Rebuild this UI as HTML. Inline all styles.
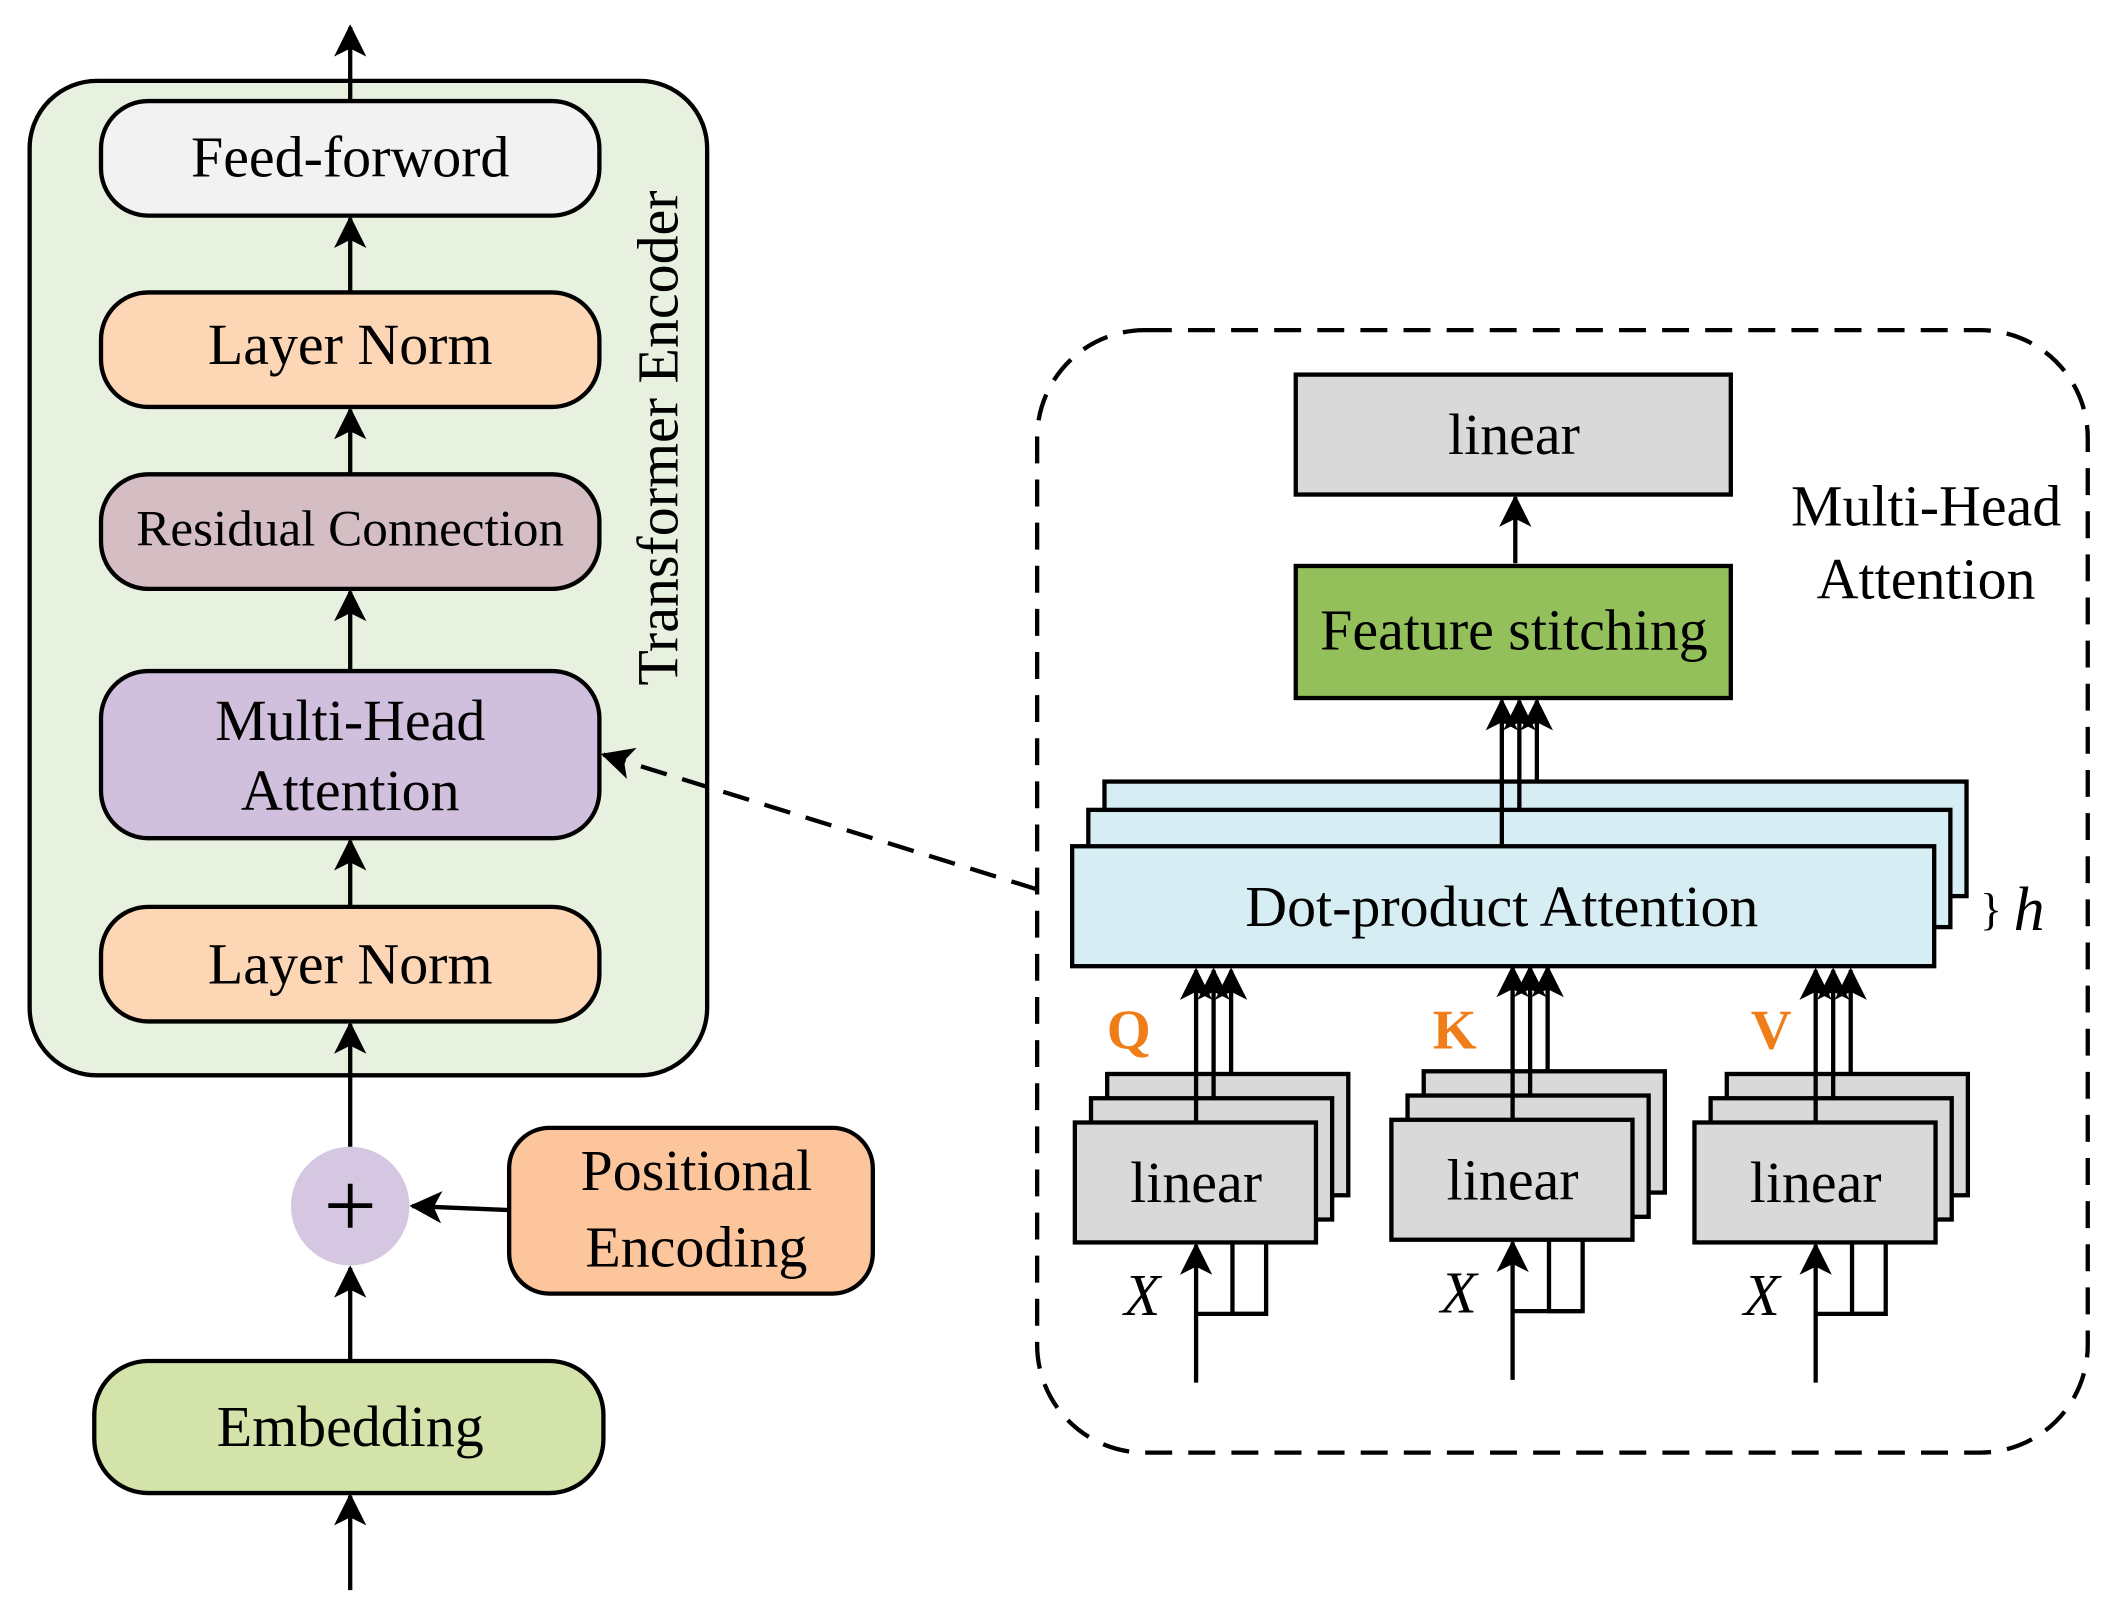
<!DOCTYPE html>
<html><head><meta charset="utf-8"><style>
html,body{margin:0;padding:0;background:#fff;}
svg{display:block;}
text{font-family:"Liberation Serif",serif;fill:#000;}
</style></head><body>
<svg width="2112" height="1613" viewBox="0 0 1568 1197" preserveAspectRatio="none" xmlns="http://www.w3.org/2000/svg">
<defs>
<marker id="ah" viewBox="0 0 12 12" refX="11" refY="6" markerWidth="24" markerHeight="24" orient="auto" markerUnits="userSpaceOnUse"><path d="M0,0 L12,6 L0,12 L3,6 Z" fill="#000"/></marker>
</defs>
<g stroke="#000" stroke-width="3.2">
<rect x="22" y="60" width="503" height="738" rx="50" fill="#e8f0df"/>
<rect x="75" y="75" width="370" height="85" rx="35" fill="#f2f2f2"/>
<rect x="75" y="217" width="370" height="85" rx="35" fill="#fdd6b6"/>
<rect x="75" y="352" width="370" height="85" rx="35" fill="#d4bec4"/>
<rect x="75" y="498" width="370" height="124" rx="35" fill="#d1c0dd"/>
<rect x="75" y="673" width="370" height="85" rx="35" fill="#fdd6b6"/>
<rect x="378" y="837" width="270" height="123" rx="30" fill="#fcc59c"/>
<rect x="70" y="1010" width="378" height="98" rx="40" fill="#d3e3a9"/>
</g>
<circle cx="260" cy="895" r="44" fill="#d5c6e1"/>
<text x="260" y="918" font-size="70" text-anchor="middle">+</text>
<g stroke="#000" stroke-width="3.2" fill="none" marker-end="url(#ah)">
<line x1="260" y1="75" x2="260" y2="20"/>
<line x1="260" y1="217" x2="260" y2="162"/>
<line x1="260" y1="352" x2="260" y2="304"/>
<line x1="260" y1="498" x2="260" y2="439"/>
<line x1="260" y1="673" x2="260" y2="624"/>
<line x1="260" y1="851" x2="260" y2="760"/>
<line x1="260" y1="1010" x2="260" y2="941"/>
<line x1="260" y1="1180" x2="260" y2="1110"/>
<line x1="378" y1="898" x2="306" y2="895"/>
<line x1="770" y1="660" x2="448" y2="560" stroke-dasharray="20,12"/>
</g>
<g font-size="43" text-anchor="middle">
<text x="260" y="131">Feed-forword</text>
<text x="260" y="270">Layer Norm</text>
<text x="260" y="405" font-size="38">Residual Connection</text>
<text x="260" y="549">Multi-Head</text>
<text x="260" y="601">Attention</text>
<text x="260" y="730">Layer Norm</text>
<text x="517" y="883">Positional</text>
<text x="517" y="940">Encoding</text>
<text x="260" y="1073">Embedding</text>
<text transform="translate(503,325) rotate(-90)" font-size="43">Transformer Encoder</text>
</g>
<rect x="770" y="245" width="780" height="833" rx="80" fill="none" stroke="#000" stroke-width="3.2" stroke-dasharray="20,12"/>
<g stroke="#000" stroke-width="3.2">
<rect x="962" y="278" width="323" height="89" fill="#d9d9d9"/>
<rect x="962" y="420" width="323" height="98" fill="#93c05b"/>
<rect x="820" y="580" width="640" height="85" fill="#d6eef3"/>
<rect x="808" y="601" width="640" height="87" fill="#d6eef3"/>
<rect x="796" y="628" width="640" height="89" fill="#d6eef3"/>
</g>
<g stroke="#000" stroke-width="3.2" fill="none" marker-end="url(#ah)">
<line x1="1125" y1="418" x2="1125" y2="369"/>
<line x1="1115" y1="628" x2="1115" y2="520"/>
<line x1="1128" y1="601" x2="1128" y2="520"/>
<line x1="1141" y1="580" x2="1141" y2="520"/>
</g>
<g font-size="43" text-anchor="middle">
<text x="1124" y="337">linear</text>
<text x="1124" y="482">Feature stitching</text>
<text x="1115" y="687">Dot-product Attention</text>
<text x="1430" y="390">Multi-Head</text>
<text x="1430" y="444">Attention</text>
</g>
<text x="1470" y="686" font-size="34">}</text>
<text x="1495" y="690" font-size="46" font-style="italic">h</text>
<g id="g1">
<g stroke="#000" stroke-width="3.2">
<rect x="822" y="797" width="179" height="90" fill="#d9d9d9"/>
<rect x="810" y="815" width="179" height="90" fill="#d9d9d9"/>
<rect x="798" y="833" width="179" height="89" fill="#d9d9d9"/>
</g>
<g stroke="#000" stroke-width="3.2" fill="none">
<polyline points="915,922 915,975 940,975 940,922"/>
<line x1="888" y1="975" x2="940" y2="975"/>
</g>
<g stroke="#000" stroke-width="3.2" fill="none" marker-end="url(#ah)">
<line x1="888" y1="833" x2="888" y2="720"/>
<line x1="901" y1="815" x2="901" y2="720"/>
<line x1="914" y1="797" x2="914" y2="720"/>
<line x1="888" y1="1026" x2="888" y2="924"/>
</g>
<text x="888" y="892" font-size="43" text-anchor="middle">linear</text>
<text x="848" y="976" font-size="44" font-style="italic" text-anchor="middle">X</text>
</g>
<use href="#g1" transform="translate(235,-2)"/>
<use href="#g1" transform="translate(460,0)"/>
<g font-size="42" font-weight="bold">
<text x="838" y="778" style="fill:#f07d17" text-anchor="middle">Q</text>
<text x="1080" y="778" style="fill:#f07d17" text-anchor="middle">K</text>
<text x="1315" y="778" style="fill:#f07d17" text-anchor="middle">V</text>
</g>
</svg>
</body></html>
